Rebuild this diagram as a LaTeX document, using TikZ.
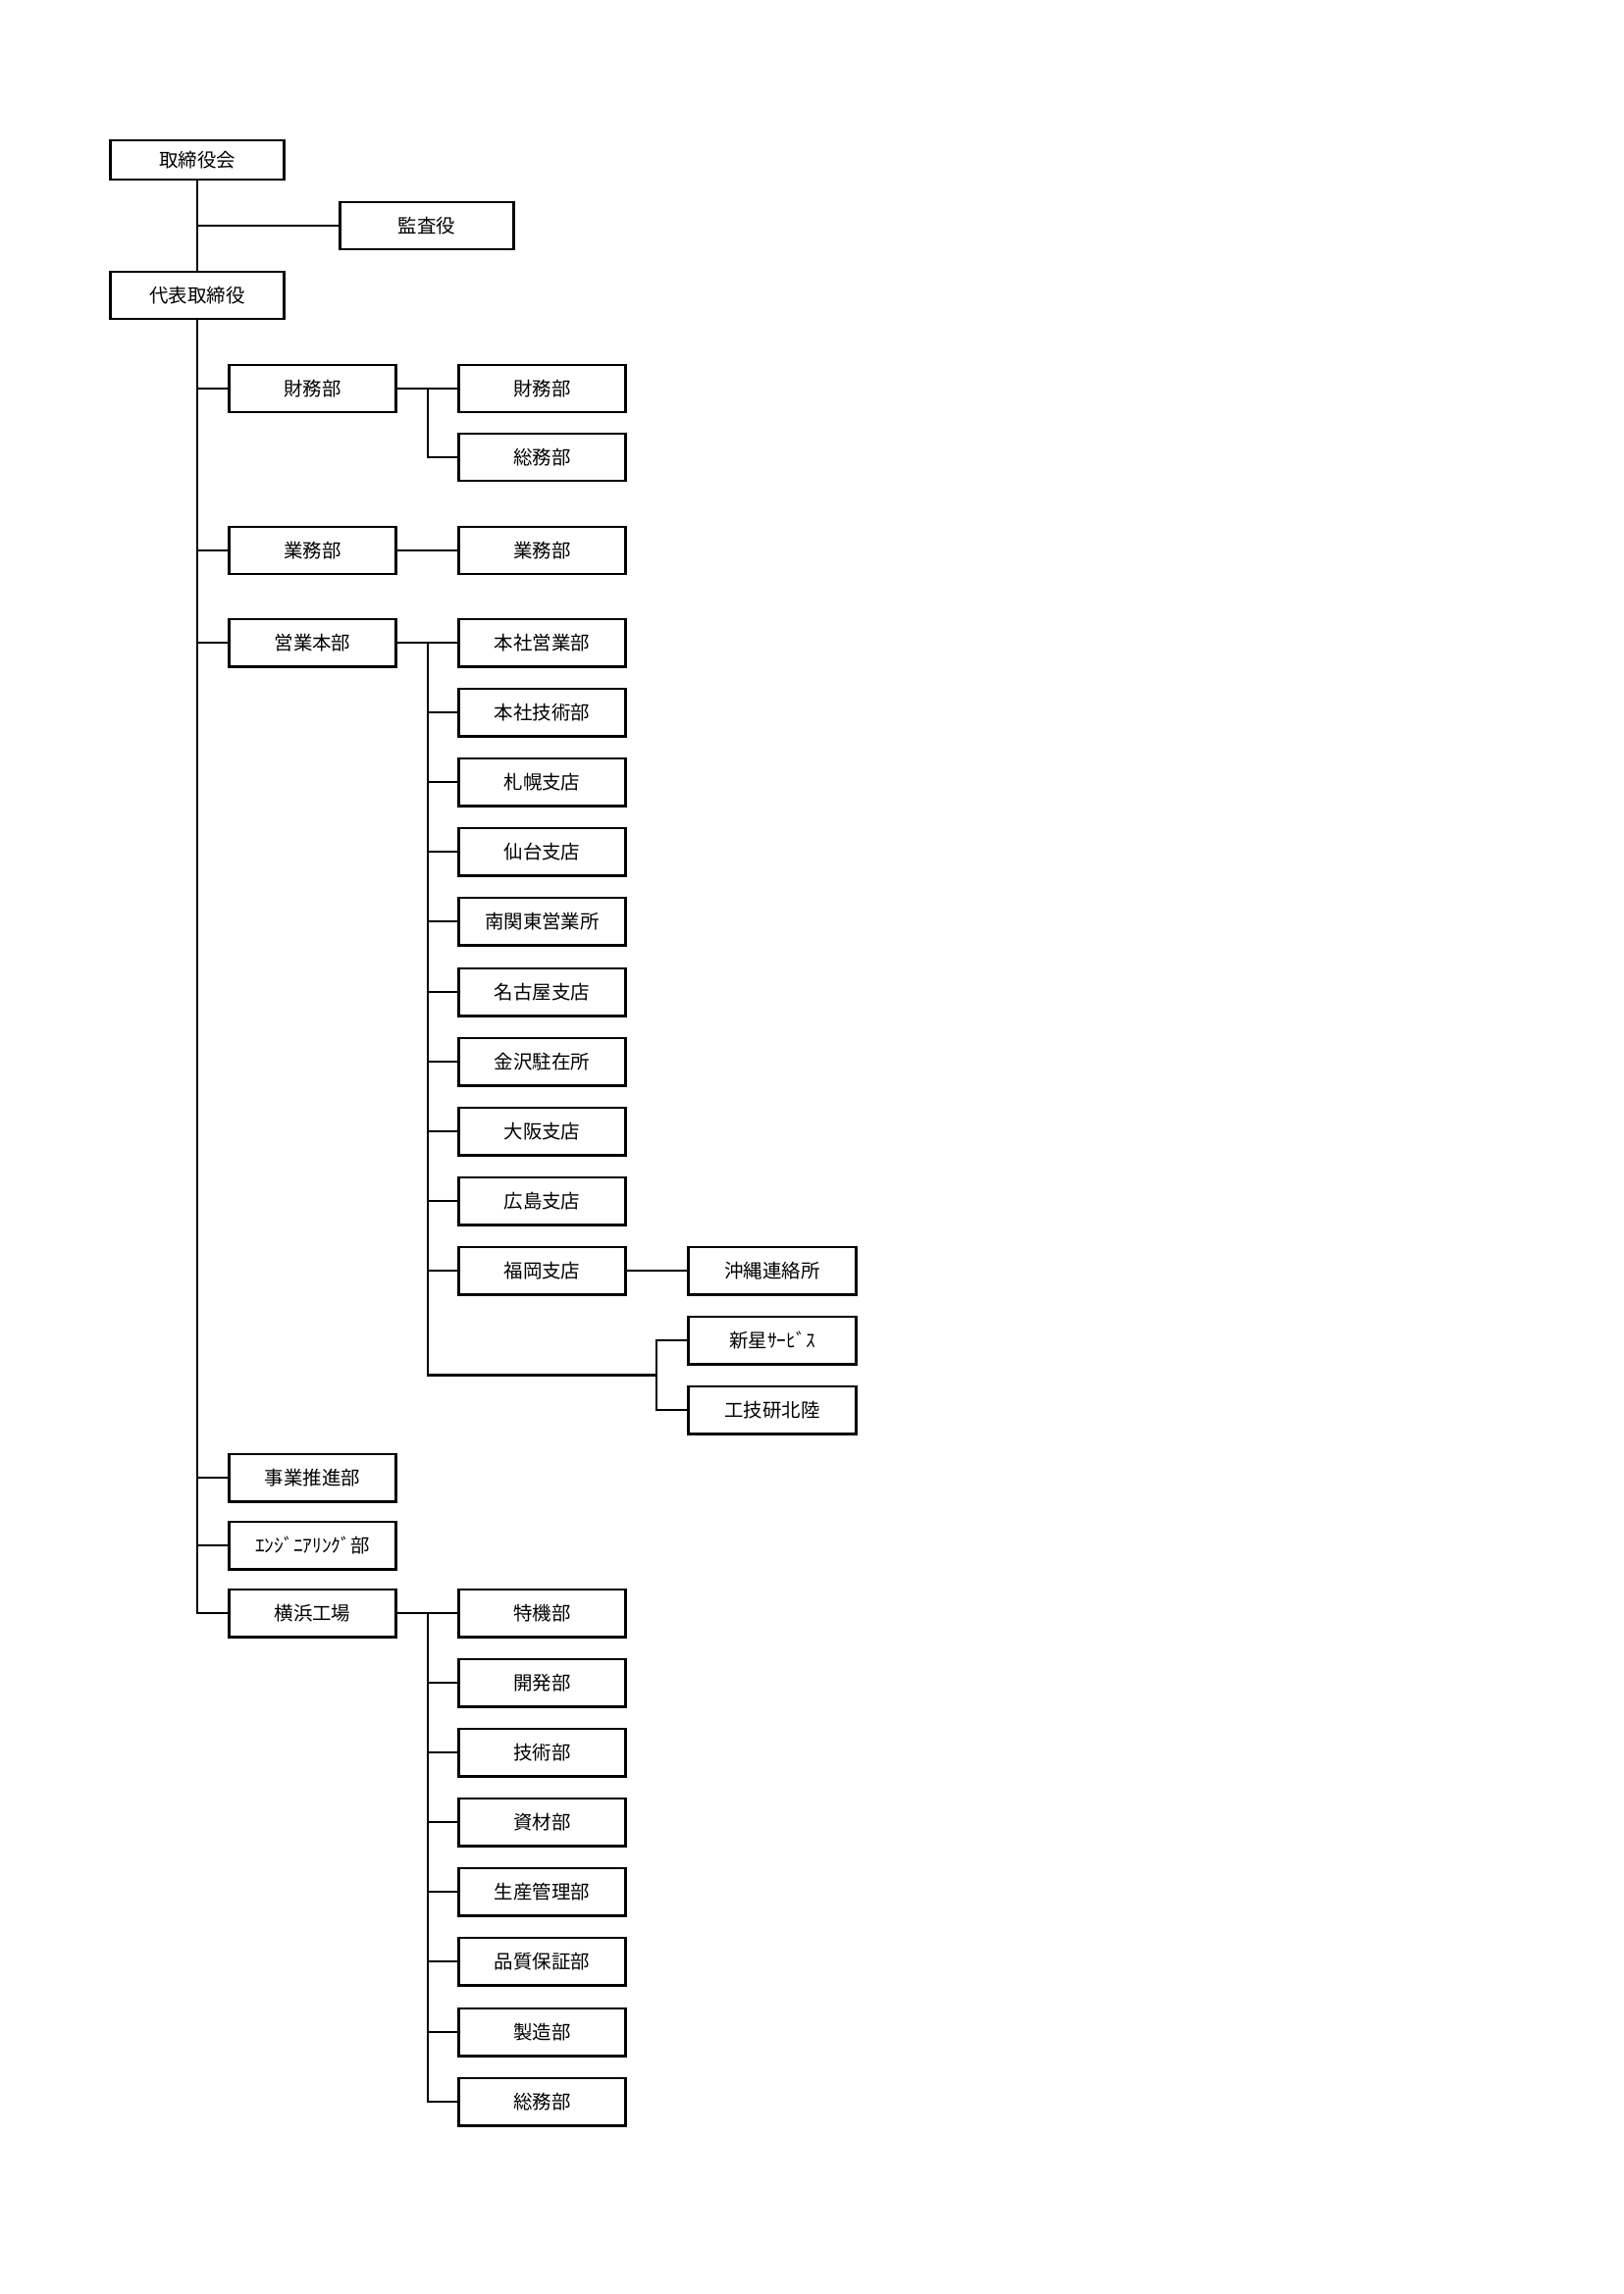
\documentclass[tikz,border=0pt]{standalone}
\usepackage{fontspec}
\newfontfamily\jpfont{Noto Sans CJK JP}
\usepackage{tikz}

\begin{document}
\begin{tikzpicture}[x=0.36pt,y=-0.36pt]
        \tikzstyle{every node}+=[inner sep=0pt, font=\jpfont\fontsize{7}{8}\selectfont]
        \tikzstyle{topbox}=[draw=black, line width=1.05pt, minimum width=64pt, minimum height=17.3pt]
        \tikzstyle{unit}=[draw=black, line width=1.05pt, minimum width=61.5pt, minimum height=17.3pt]
        \tikzstyle{link}=[black, line width=1.05pt]
        \useasboundingbox (0,0) rectangle (1654,2338);
        % top
        \node [topbox, minimum height=14.4pt] (board) at (201,163) {取締役会};
        \node [topbox] (kansa) at (435,230) {監査役};
        \node [topbox] (ceo) at (201,301) {代表取締役};
        % second level
        \node [unit] (zaimu) at (318.5,396) {財務部};
        \node [unit] (gyomu) at (318.5,561) {業務部};
        \node [unit] (eigyo) at (318.5,655) {営業本部};
        \node [unit] (jigyo) at (318.5,1506) {事業推進部};
        \node [unit] (eng) at (318.5,1575) {ｴﾝｼﾞﾆｱﾘﾝｸﾞ部};
        \node [unit] (yoko) at (318.5,1644) {横浜工場};
        % third level
        \node [unit] (zaimuA) at (552.5,396) {財務部};
        \node [unit] (somuA) at (552.5,466) {総務部};
        \node [unit] (gyomuA) at (552.5,561) {業務部};
        \node [unit] (honEi) at (552.5,655) {本社営業部};
        \node [unit] (honGi) at (552.5,726) {本社技術部};
        \node [unit] (sapporo) at (552.5,797) {札幌支店};
        \node [unit] (sendai) at (552.5,868) {仙台支店};
        \node [unit] (minami) at (552.5,939) {南関東営業所};
        \node [unit] (nagoya) at (552.5,1011) {名古屋支店};
        \node [unit] (kanaz) at (552.5,1082) {金沢駐在所};
        \node [unit] (osaka) at (552.5,1153) {大阪支店};
        \node [unit] (hiro) at (552.5,1224) {広島支店};
        \node [unit] (fuku) at (552.5,1295) {福岡支店};
        \node [unit] (tokki) at (552.5,1644) {特機部};
        \node [unit] (kaihatsu) at (552.5,1715) {開発部};
        \node [unit] (gijutsu) at (552.5,1786) {技術部};
        \node [unit] (shizai) at (552.5,1857) {資材部};
        \node [unit] (seisan) at (552.5,1928) {生産管理部};
        \node [unit] (hinshitsu) at (552.5,1999) {品質保証部};
        \node [unit] (seizo) at (552.5,2071) {製造部};
        \node [unit] (somuB) at (552.5,2142) {総務部};
        % fourth level
        \node [unit] (okinawa) at (787,1295) {沖縄連絡所};
        \node [unit] (shinsei) at (787,1366) {新星ｻｰﾋﾞｽ};
        \node [unit] (kogiken) at (787,1437) {工技研北陸};
        % branch points
        \coordinate (zb) at (436,396);
        \coordinate (eb) at (436,655);
        \coordinate (yb) at (436,1644);
        \coordinate (cb) at (669,1401.5);
        % trunk
        \draw [link] (board) -- (ceo);
        \draw [link] (board.south) |- (kansa.west);
        \draw [link] (ceo.south) |- (zaimu.west);
        \draw [link] (ceo.south) |- (gyomu.west);
        \draw [link] (ceo.south) |- (eigyo.west);
        \draw [link] (ceo.south) |- (jigyo.west);
        \draw [link] (ceo.south) |- (eng.west);
        \draw [link] (ceo.south) |- (yoko.west);
        % finance
        \draw [link] (zaimu) -- (zaimuA);
        \draw [link] (zb) |- (somuA.west);
        \draw [link] (gyomu) -- (gyomuA);
        % sales
        \draw [link] (eigyo) -- (honEi);
        \draw [link] (eb) |- (honGi.west);
        \draw [link] (eb) |- (sapporo.west);
        \draw [link] (eb) |- (sendai.west);
        \draw [link] (eb) |- (minami.west);
        \draw [link] (eb) |- (nagoya.west);
        \draw [link] (eb) |- (kanaz.west);
        \draw [link] (eb) |- (osaka.west);
        \draw [link] (eb) |- (hiro.west);
        \draw [link] (eb) |- (fuku.west);
        \draw [link] (eb) |- (cb);
        \draw [link] (fuku) -- (okinawa);
        \draw [link] (cb) |- (shinsei.west);
        \draw [link] (cb) |- (kogiken.west);
        % factory
        \draw [link] (yoko) -- (tokki);
        \draw [link] (yb) |- (kaihatsu.west);
        \draw [link] (yb) |- (gijutsu.west);
        \draw [link] (yb) |- (shizai.west);
        \draw [link] (yb) |- (seisan.west);
        \draw [link] (yb) |- (hinshitsu.west);
        \draw [link] (yb) |- (seizo.west);
        \draw [link] (yb) |- (somuB.west);
\end{tikzpicture}
\end{document}
